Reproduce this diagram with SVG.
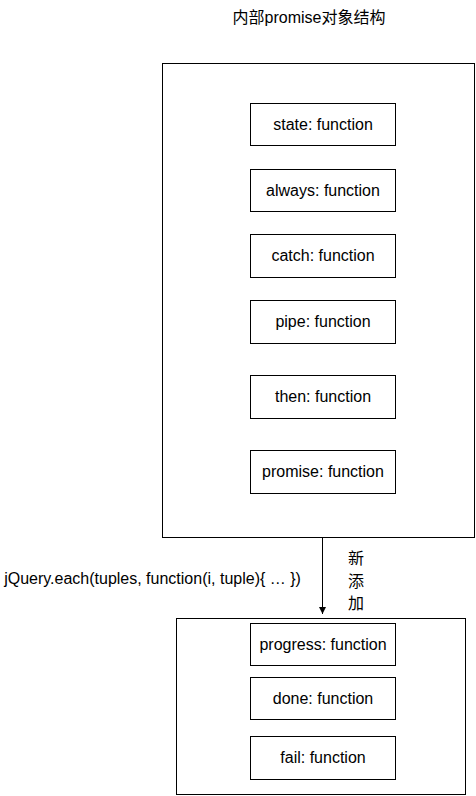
<svg xmlns="http://www.w3.org/2000/svg" width="476" height="796" viewBox="0 0 476 796">
<defs>
<style>
.box{fill:#fff;stroke:#000;stroke-width:1}
.t{font-family:"Liberation Sans","Noto Sans CJK SC",Arial,sans-serif;font-size:16px;fill:#000;text-anchor:middle;dominant-baseline:central}
.e{stroke:#000;stroke-width:1;fill:none}
</style>
<marker id="arr" markerWidth="8" markerHeight="8" refX="7" refY="4" orient="auto" markerUnits="userSpaceOnUse">
<path d="M0,0.5 L7,4 L0,7.5 Z" fill="#000"/>
</marker>
</defs>
<rect width="476" height="796" fill="#fff"/>
<text class="t" x="309" y="17">内部promise对象结构</text>
<g id="outer">
<rect class="box" x="162.5" y="63.5" width="312" height="474"/>
</g>
<g id="state"><rect class="box" x="250.5" y="103.5" width="145" height="42"/><text class="t" x="323" y="124">state: function</text></g>
<g id="always"><rect class="box" x="250.5" y="169.5" width="145" height="42"/><text class="t" x="323" y="190">always: function</text></g>
<g id="catch"><rect class="box" x="250.5" y="234.5" width="145" height="43"/><text class="t" x="323" y="255.5">catch: function</text></g>
<g id="pipe"><rect class="box" x="250.5" y="300.5" width="145" height="43"/><text class="t" x="323" y="321.5">pipe: function</text></g>
<g id="then"><rect class="box" x="250.5" y="375.5" width="145" height="43"/><text class="t" x="323" y="396.5">then: function</text></g>
<g id="promise"><rect class="box" x="250.5" y="450.5" width="145" height="43"/><text class="t" x="323" y="471.5">promise: function</text></g>
<g id="added">
<rect class="box" x="176.5" y="618.5" width="289" height="176"/>
</g>
<g id="progress"><rect class="box" x="250.5" y="623.5" width="145" height="42"/><text class="t" x="323" y="644">progress: function</text></g>
<g id="done"><rect class="box" x="250.5" y="677.5" width="145" height="42"/><text class="t" x="323" y="698">done: function</text></g>
<g id="fail"><rect class="box" x="250.5" y="736.5" width="145" height="43"/><text class="t" x="323" y="757.5">fail: function</text></g>
<g id="connectors">
<line class="e" x1="322.5" y1="538" x2="322.5" y2="614" marker-end="url(#arr)"/>
<text class="t" x="152.5" y="578">jQuery.each(tuples, function(i, tuple){ … })</text>
<text class="t" x="356" y="558">新</text>
<text class="t" x="356" y="581">添</text>
<text class="t" x="356" y="603">加</text>
</g>
</svg>
